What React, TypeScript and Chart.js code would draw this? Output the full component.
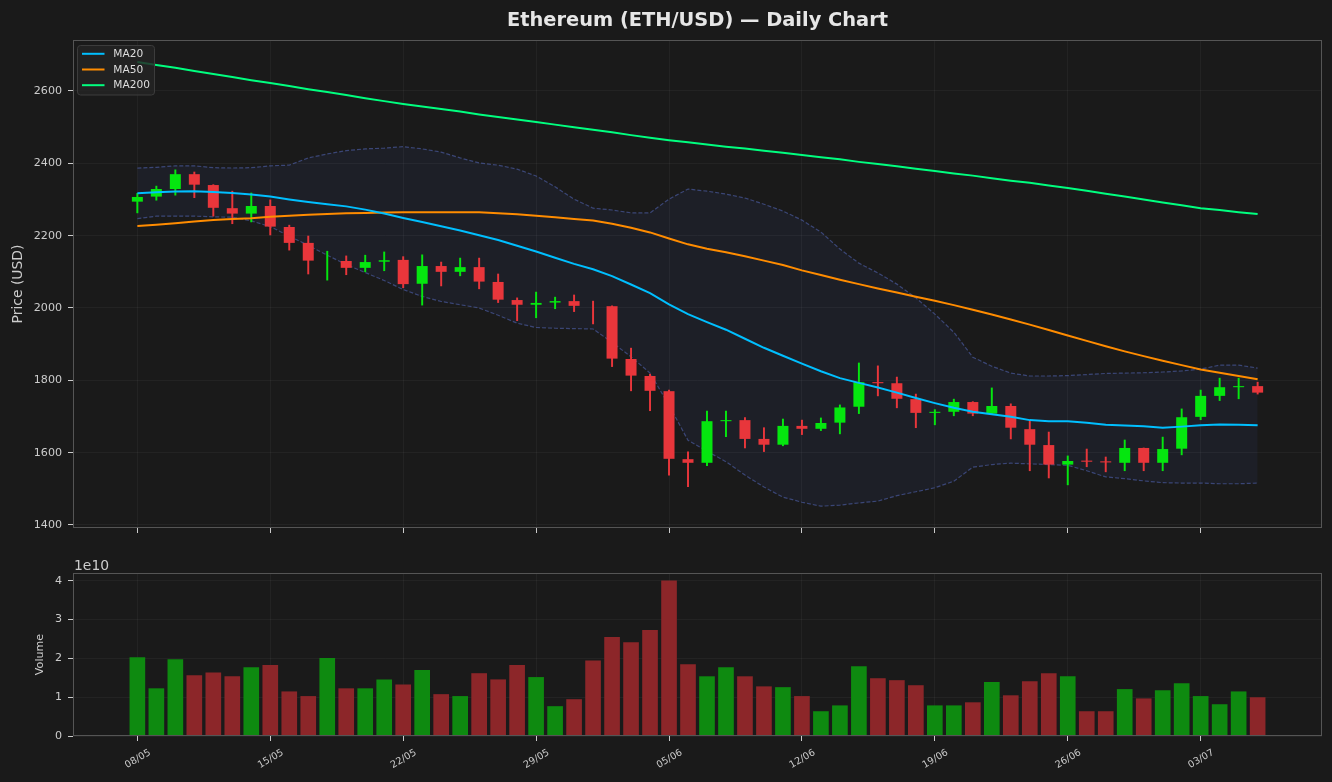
import React, { useEffect, useRef } from "react";
import { Chart, registerables } from "chart.js";

Chart.register(...registerables);

const FONT = "'DejaVu Sans', 'Liberation Sans', sans-serif";
const TITLE = "Ethereum (ETH/USD) — Daily Chart";

const tickLabels = ["08/05", "15/05", "22/05", "29/05", "05/06", "12/06", "19/06", "26/06", "03/07"];
const tickPositions = [0, 7, 14, 21, 28, 35, 42, 49, 56];
const priceTicks = [1400, 1600, 1800, 2000, 2200, 2400, 2600];
const volumeTicks = [0, 1e10, 2e10, 3e10, 4e10];

const opens = [
  2294, 2308, 2329, 2370, 2340, 2276, 2261, 2282, 2224, 2180,
  2131, 2130, 2111, 2128, 2133, 2067, 2116, 2100, 2113, 2072,
  2022, 2009, 2015, 2019, 2006, 2005, 1859, 1812, 1770, 1582,
  1572, 1687, 1690, 1638, 1622, 1674, 1666, 1683, 1727, 1795,
  1792, 1748, 1710, 1713, 1740, 1708, 1729, 1665, 1621, 1567,
  1578, 1576, 1572, 1613, 1572, 1611, 1699, 1757, 1781, 1784,
];
const highs = [
  2317, 2337, 2382, 2376, 2341, 2323, 2318, 2299, 2229, 2199,
  2157, 2144, 2146, 2155, 2142, 2147, 2127, 2138, 2138, 2094,
  2028, 2044, 2030, 2036, 2019, 2006, 1889, 1817, 1773, 1602,
  1715, 1715, 1697, 1669, 1693, 1690, 1696, 1732, 1848, 1840,
  1809, 1762, 1719, 1748, 1741, 1779, 1735, 1687, 1657, 1591,
  1610, 1588, 1635, 1613, 1643, 1721, 1773, 1806, 1806, 1795,
];
const lows = [
  2263, 2298, 2312, 2305, 2254, 2233, 2238, 2202, 2160, 2094,
  2077, 2092, 2100, 2103, 2056, 2008, 2061, 2089, 2053, 2015,
  1965, 1973, 1998, 1990, 1956, 1838, 1771, 1716, 1538, 1506,
  1564, 1644, 1613, 1603, 1619, 1650, 1661, 1652, 1708, 1757,
  1724, 1669, 1677, 1702, 1702, 1705, 1638, 1550, 1530, 1511,
  1561, 1547, 1550, 1550, 1550, 1594, 1691, 1744, 1749, 1762,
];
const closes = [
  2307, 2329, 2370, 2341, 2277, 2261, 2282, 2225, 2180, 2131,
  2131, 2111, 2127, 2132, 2066, 2116, 2100, 2113, 2073, 2023,
  2009, 2014, 2019, 2006, 2005.95, 1860, 1813, 1771, 1583, 1572,
  1687, 1690, 1638, 1622, 1674, 1666, 1682, 1725, 1795, 1792,
  1749, 1710, 1713, 1740, 1708, 1729, 1669, 1622, 1567, 1577,
  1575, 1573, 1613, 1572, 1610, 1698, 1757, 1781, 1784, 1766,
];
const volumes = [
  2.02e10, 1.22e10, 1.97e10, 1.56e10, 1.63e10, 1.53e10, 1.76e10, 1.82e10, 1.14e10, 1.02e10,
  2.0e10, 1.22e10, 1.22e10, 1.45e10, 1.32e10, 1.69e10, 1.07e10, 1.02e10, 1.61e10, 1.45e10,
  1.82e10, 1.51e10, 0.76e10, 0.94e10, 1.94e10, 2.54e10, 2.41e10, 2.72e10, 4.0e10, 1.84e10,
  1.53e10, 1.76e10, 1.53e10, 1.27e10, 1.25e10, 1.02e10, 0.63e10, 0.78e10, 1.79e10, 1.48e10,
  1.43e10, 1.3e10, 0.78e10, 0.78e10, 0.86e10, 1.38e10, 1.04e10, 1.4e10, 1.61e10, 1.53e10,
  0.63e10, 0.63e10, 1.2e10, 0.96e10, 1.17e10, 1.35e10, 1.02e10, 0.81e10, 1.14e10, 0.99e10,
];
const ma20 = [
  2317, 2320, 2322, 2323, 2321, 2318, 2314, 2308, 2300, 2293,
  2287, 2281, 2272, 2261, 2249, 2238, 2226, 2214, 2201, 2188,
  2172, 2156, 2139, 2122, 2107, 2088, 2065, 2041, 2010, 1983,
  1961, 1940, 1915, 1890, 1868, 1846, 1825, 1806, 1793, 1780,
  1766, 1751, 1737, 1724, 1713, 1706, 1699, 1690, 1687, 1687,
  1683, 1677, 1675, 1673, 1669, 1672, 1676, 1678, 1677, 1676,
];
const ma50 = [
  2227, 2230, 2234, 2239, 2243, 2246, 2248, 2252, 2255, 2258,
  2260, 2262, 2263, 2264, 2265, 2265, 2265, 2265, 2265, 2262,
  2259, 2255, 2251, 2246, 2242, 2233, 2222, 2209, 2192, 2176,
  2164, 2154, 2143, 2131, 2119, 2104, 2091, 2078, 2066, 2054,
  2043, 2031, 2020, 2008, 1995, 1982, 1968, 1954, 1939, 1924,
  1909, 1894, 1880, 1867, 1854, 1842, 1830, 1821, 1812, 1803,
];
const ma200 = [
  2680, 2672, 2664, 2655, 2647, 2639, 2630, 2622, 2614, 2605,
  2597, 2589, 2580, 2572, 2564, 2557, 2550, 2543, 2535, 2528,
  2521, 2514, 2507, 2500, 2493, 2486, 2478, 2471, 2464, 2458,
  2452, 2446, 2441, 2435, 2429, 2423, 2417, 2411, 2404, 2398,
  2392, 2385, 2379, 2372, 2366, 2359, 2352, 2346, 2339, 2332,
  2324, 2316, 2308, 2300, 2292, 2284, 2276, 2271, 2265, 2260,
];
const bbUpper = [
  2387, 2389, 2393, 2393, 2388, 2387, 2388, 2393, 2395, 2415,
  2426, 2435, 2440, 2442, 2446, 2440, 2431, 2415, 2401, 2395,
  2384, 2365, 2335, 2301, 2276, 2271, 2263, 2263, 2301, 2329,
  2323, 2315, 2304, 2287, 2268, 2243, 2210, 2163, 2124, 2097,
  2066, 2028, 1983, 1933, 1864, 1839, 1820, 1812, 1812, 1813,
  1816, 1819, 1820, 1821, 1823, 1826, 1831, 1842, 1842, 1834,
];
const bbLower = [
  2247, 2254, 2254, 2254, 2252, 2251, 2241, 2225, 2199, 2173,
  2146, 2120, 2098, 2076, 2051, 2032, 2018, 2009, 2000, 1980,
  1958, 1946, 1944, 1943, 1942, 1905, 1865, 1820, 1731, 1634,
  1604, 1575, 1538, 1505, 1477, 1463, 1452, 1455, 1461, 1466,
  1481, 1492, 1503, 1521, 1560, 1567, 1571, 1569, 1567, 1565,
  1550, 1533, 1528, 1522, 1517, 1516, 1516, 1514, 1514, 1516,
];

const BG = "#1a1a1a";
const GRID = "rgba(255,255,255,0.06)";
const TICK_TXT = "#cccccc";
const SPINE = "#555555";
const UP = "#05e60f";
const DOWN = "#e8363b";
const VOL_UP = "#0e8a10";
const VOL_DOWN = "#8c2629";

const X_MIN = -3.39;
const X_MAX = 62.39;

const isUp = (i: number) => closes[i] >= opens[i];

const pts = (arr: number[]) => arr.map((v, i) => ({ x: i, y: v }));

function xScale(axisHeight: number) {
  return {
    type: "linear" as const,
    min: X_MIN,
    max: X_MAX,
    offset: false,
    afterBuildTicks: (s: any) => {
      s.ticks = tickPositions.map((v) => ({ value: v }));
    },
    afterFit: (s: any) => {
      s.height = axisHeight;
    },
    ticks: { display: false, autoSkip: false },
    grid: {
      offset: false,
      color: GRID,
      lineWidth: 0.8,
      drawTicks: true,
      tickLength: 5,
      tickColor: TICK_TXT,
      tickWidth: 1,
    },
    border: { display: false },
  };
}

function spines(chart: any) {
  const { ctx, chartArea: a } = chart;
  ctx.save();
  ctx.strokeStyle = SPINE;
  ctx.lineWidth = 1;
  const l = Math.round(a.left) + 0.5;
  const t = Math.round(a.top) + 0.5;
  const r = Math.round(a.right) - 0.5;
  const b = Math.round(a.bottom) - 0.5;
  ctx.strokeRect(l, t, r - l, b - t);
  ctx.restore();
}

const priceDecor = {
  id: "priceDecor",
  afterDraw(chart: any) {
    const { ctx, chartArea: a } = chart;
    spines(chart);
    ctx.save();
    ctx.fillStyle = "#e6e6e6";
    ctx.font = `bold 19.4px ${FONT}`;
    ctx.textAlign = "center";
    ctx.textBaseline = "alphabetic";
    ctx.fillText(TITLE, (a.left + a.right) / 2, 26);
    ctx.save();
    ctx.translate(18, (a.top + a.bottom) / 2);
    ctx.rotate(-Math.PI / 2);
    ctx.font = `13.9px ${FONT}`;
    ctx.fillStyle = TICK_TXT;
    ctx.textBaseline = "middle";
    ctx.textAlign = "center";
    ctx.fillText("Price (USD)", 0, 0);
    ctx.restore();
    const bx = 77.5, by = 45.5, bw = 77, bh = 49.5, rr = 3;
    ctx.beginPath();
    ctx.moveTo(bx + rr, by);
    ctx.lineTo(bx + bw - rr, by);
    ctx.quadraticCurveTo(bx + bw, by, bx + bw, by + rr);
    ctx.lineTo(bx + bw, by + bh - rr);
    ctx.quadraticCurveTo(bx + bw, by + bh, bx + bw - rr, by + bh);
    ctx.lineTo(bx + rr, by + bh);
    ctx.quadraticCurveTo(bx, by + bh, bx, by + bh - rr);
    ctx.lineTo(bx, by + rr);
    ctx.quadraticCurveTo(bx, by, bx + rr, by);
    ctx.closePath();
    ctx.fillStyle = "rgba(36,36,36,0.82)";
    ctx.fill();
    ctx.strokeStyle = "#3c3c3c";
    ctx.lineWidth = 1;
    ctx.stroke();
    const items = [
      { label: "MA20", color: "#00bfff" },
      { label: "MA50", color: "#ff8c00" },
      { label: "MA200", color: "#00ff7f" },
    ];
    ctx.font = `10.6px ${FONT}`;
    ctx.textAlign = "left";
    ctx.textBaseline = "middle";
    items.forEach((it, k) => {
      const y = 53.8 + k * 15.7;
      ctx.strokeStyle = it.color;
      ctx.lineWidth = 2;
      ctx.beginPath();
      ctx.moveTo(82, y);
      ctx.lineTo(104.5, y);
      ctx.stroke();
      ctx.fillStyle = "#dddddd";
      ctx.fillText(it.label, 113.3, y + 0.5);
    });
    ctx.restore();
  },
};

const volumeDecor = {
  id: "volumeDecor",
  afterDraw(chart: any) {
    const { ctx, chartArea: a } = chart;
    spines(chart);
    ctx.save();
    ctx.fillStyle = TICK_TXT;
    ctx.font = `13.9px ${FONT}`;
    ctx.textAlign = "left";
    ctx.textBaseline = "alphabetic";
    ctx.fillText("1e10", a.left + 1, a.top - 3);
    ctx.save();
    ctx.translate(40, (a.top + a.bottom) / 2);
    ctx.rotate(-Math.PI / 2);
    ctx.font = `11.1px ${FONT}`;
    ctx.textAlign = "center";
    ctx.textBaseline = "middle";
    ctx.fillText("Volume", 0, 0);
    ctx.restore();
    const xs = chart.scales.x;
    ctx.font = `9.7px ${FONT}`;
    ctx.textAlign = "center";
    ctx.textBaseline = "middle";
    tickPositions.forEach((p, k) => {
      const px = xs.getPixelForValue(p);
      ctx.save();
      ctx.translate(px + 0.5, a.bottom + 23);
      ctx.rotate(-Math.PI / 6);
      ctx.fillText(tickLabels[k], 0, 0);
      ctx.restore();
    });
    ctx.restore();
  },
};

export default function App() {
  const priceRef = useRef<HTMLCanvasElement | null>(null);
  const volRef = useRef<HTMLCanvasElement | null>(null);

  useEffect(() => {
    const candleColors = opens.map((_, i) => (isUp(i) ? UP : DOWN));
    const volColors = opens.map((_, i) => (isUp(i) ? VOL_UP : VOL_DOWN));

    const priceChart = new Chart(priceRef.current as HTMLCanvasElement, {
      type: "bar",
      data: {
        datasets: [
          {
            type: "line",
            label: "BB Upper",
            data: pts(bbUpper),
            borderColor: "rgba(85,105,190,0.55)",
            borderWidth: 1.2,
            borderDash: [4, 2],
            pointRadius: 0,
            fill: "+1",
            backgroundColor: "rgba(70,90,180,0.09)",
            tension: 0,
            order: 5,
          } as any,
          {
            type: "line",
            label: "BB Lower",
            data: pts(bbLower),
            borderColor: "rgba(85,105,190,0.55)",
            borderWidth: 1.2,
            borderDash: [4, 2],
            pointRadius: 0,
            fill: false,
            tension: 0,
            order: 5,
          } as any,
          {
            type: "bar",
            label: "wicks",
            data: lows.map((l, i) => ({ x: i, y: [l, highs[i]] })),
            backgroundColor: candleColors,
            borderWidth: 0,
            barThickness: 1.3,
            grouped: false,
            order: 3,
          } as any,
          {
            type: "bar",
            label: "bodies",
            data: opens.map((o, i) => ({ x: i, y: [o, closes[i]] })),
            backgroundColor: candleColors,
            borderWidth: 0,
            barThickness: 11,
            inflateAmount: 0,
            grouped: false,
            order: 2,
          } as any,
          {
            type: "line",
            label: "MA20",
            data: pts(ma20),
            borderColor: "#00bfff",
            borderWidth: 2,
            pointRadius: 0,
            fill: false,
            tension: 0,
            order: 1,
          } as any,
          {
            type: "line",
            label: "MA50",
            data: pts(ma50),
            borderColor: "#ff8c00",
            borderWidth: 2,
            pointRadius: 0,
            fill: false,
            tension: 0,
            order: 1,
          } as any,
          {
            type: "line",
            label: "MA200",
            data: pts(ma200),
            borderColor: "#00ff7f",
            borderWidth: 2,
            pointRadius: 0,
            fill: false,
            tension: 0,
            order: 1,
          } as any,
        ],
      },
      options: {
        responsive: false,
        animation: false,
        devicePixelRatio: 1,
        layout: { padding: { top: 40, right: 10, bottom: 0, left: 0 } },
        plugins: {
          legend: { display: false },
          tooltip: { enabled: false },
          title: { display: false },
        },
        scales: {
          x: xScale(17) as any,
          y: {
            type: "linear",
            min: 1391.7,
            max: 2741,
            afterBuildTicks: (s: any) => {
              s.ticks = priceTicks.map((v) => ({ value: v }));
            },
            afterFit: (s: any) => {
              s.width = 73;
            },
            ticks: {
              color: TICK_TXT,
              font: { family: FONT, size: 11.1 },
              padding: 6,
              callback: (v: any) => String(v),
            },
            grid: {
              color: GRID,
              lineWidth: 0.8,
              drawTicks: true,
              tickLength: 5,
              tickColor: TICK_TXT,
              tickWidth: 1,
            },
            border: { display: false },
          } as any,
        },
      },
      plugins: [priceDecor],
    });

    const volChart = new Chart(volRef.current as HTMLCanvasElement, {
      type: "bar",
      data: {
        datasets: [
          {
            label: "Volume",
            data: volumes.map((v, i) => ({ x: i, y: v })),
            backgroundColor: volColors,
            borderWidth: 0,
            barThickness: 15,
            grouped: false,
          } as any,
        ],
      },
      options: {
        responsive: false,
        animation: false,
        devicePixelRatio: 1,
        layout: { padding: { top: 28, right: 10, bottom: 0, left: 0 } },
        plugins: {
          legend: { display: false },
          tooltip: { enabled: false },
          title: { display: false },
        },
        scales: {
          x: xScale(46) as any,
          y: {
            type: "linear",
            min: 0,
            max: 4.2e10,
            afterBuildTicks: (s: any) => {
              s.ticks = volumeTicks.map((v) => ({ value: v }));
            },
            afterFit: (s: any) => {
              s.width = 73;
            },
            ticks: {
              color: TICK_TXT,
              font: { family: FONT, size: 11.1 },
              padding: 6,
              callback: (v: any) => String(Math.round(Number(v) / 1e10)),
            },
            grid: {
              color: GRID,
              lineWidth: 0.8,
              drawTicks: true,
              tickLength: 5,
              tickColor: TICK_TXT,
              tickWidth: 1,
            },
            border: { display: false },
          } as any,
        },
      },
      plugins: [volumeDecor],
    });

    return () => {
      priceChart.destroy();
      volChart.destroy();
    };
  }, []);

  return (
    <div
      style={{
        position: "fixed",
        left: 0,
        top: 0,
        width: 1332,
        height: 782,
        background: BG,
        overflow: "hidden",
      }}
    >
      <canvas
        ref={priceRef}
        width={1332}
        height={545}
        style={{ position: "absolute", left: 0, top: 0, width: 1332, height: 545 }}
      />
      <canvas
        ref={volRef}
        width={1332}
        height={237}
        style={{ position: "absolute", left: 0, top: 545, width: 1332, height: 237 }}
      />
    </div>
  );
}
